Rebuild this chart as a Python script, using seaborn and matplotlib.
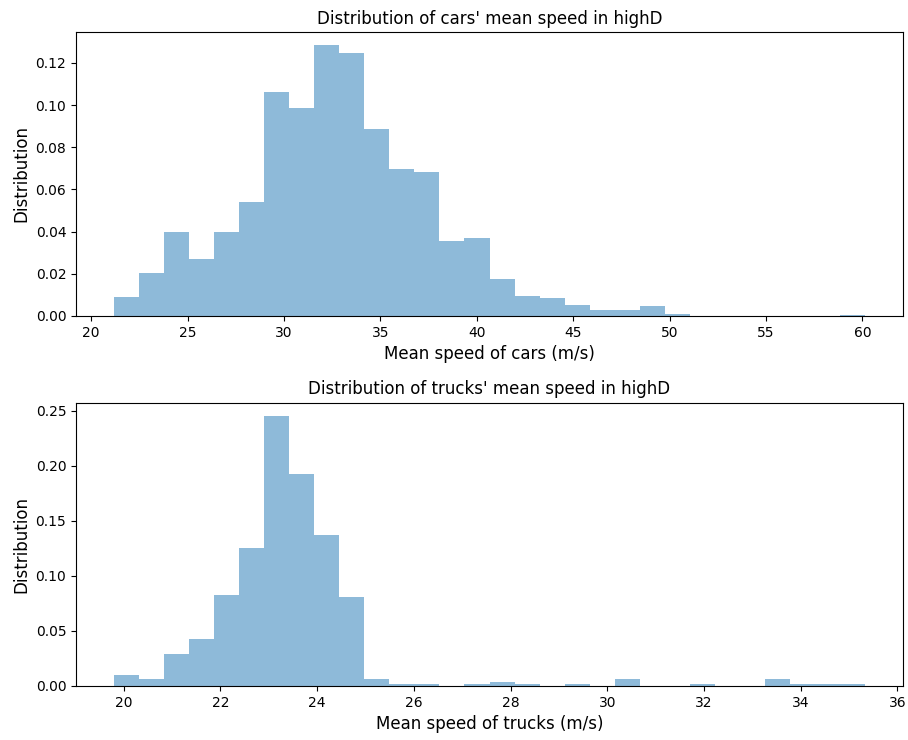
import numpy as np
import pandas as pd
import matplotlib
matplotlib.use("Agg")
import matplotlib.pyplot as plt
import seaborn as sns

# ---- data (density per bin, 30 equal bins) ----
car_min, car_max = 21.16, 60.16
car_density = [0.0089, 0.0202, 0.0396, 0.0268, 0.0396, 0.0541, 0.1061, 0.0987,
               0.1283, 0.1249, 0.0885, 0.0699, 0.0683, 0.0355, 0.0369, 0.0174,
               0.0093, 0.0087, 0.0051, 0.0027, 0.0027, 0.0046, 0.0011, 0.0,
               0.0, 0.0, 0.0, 0.0, 0.0, 0.0004]

truck_min, truck_max = 19.79, 35.34
truck_density = [0.0102, 0.0063, 0.0287, 0.0423, 0.0827, 0.1256, 0.2452, 0.1930,
                 0.1368, 0.0806, 0.0063, 0.0017, 0.0017, 0.0, 0.0019, 0.0039,
                 0.0019, 0.0, 0.0019, 0.0, 0.0066, 0.0, 0.0, 0.0019,
                 0.0, 0.0, 0.0066, 0.0019, 0.0019, 0.0019]

titles = ["Distribution of cars' mean speed in highD",
          "Distribution of trucks' mean speed in highD"]
xlabels = ["Mean speed of cars (m/s)", "Mean speed of trucks (m/s)"]
ylabel = "Distribution"

fig = plt.figure(figsize=(9.08, 7.4), dpi=100)
ax1 = fig.add_axes([0.0837, 0.573, 0.9108, 0.3838])
ax2 = fig.add_axes([0.0837, 0.0730, 0.9108, 0.3828])

for ax, lo, hi, dens, title, xl in [
    (ax1, car_min, car_max, car_density, titles[0], xlabels[0]),
    (ax2, truck_min, truck_max, truck_density, titles[1], xlabels[1]),
]:
    n = len(dens)
    width = (hi - lo) / n
    centers = lo + width * (np.arange(n) + 0.5)
    df = pd.DataFrame({"speed": centers, "density": dens})
    sns.histplot(data=df, x="speed", weights="density", bins=n,
                 binrange=(lo, hi), stat="count", color="#1f77b4",
                 alpha=0.5, linewidth=0, ax=ax)
    ax.set_title(title, fontsize=12)
    ax.set_xlabel(xl, fontsize=12)
    ax.set_ylabel(ylabel, fontsize=12)

ax1.set_xticks([20, 25, 30, 35, 40, 45, 50, 55, 60])
ax2.set_xticks([20, 22, 24, 26, 28, 30, 32, 34, 36])

fig.savefig("out.png", dpi=100)
